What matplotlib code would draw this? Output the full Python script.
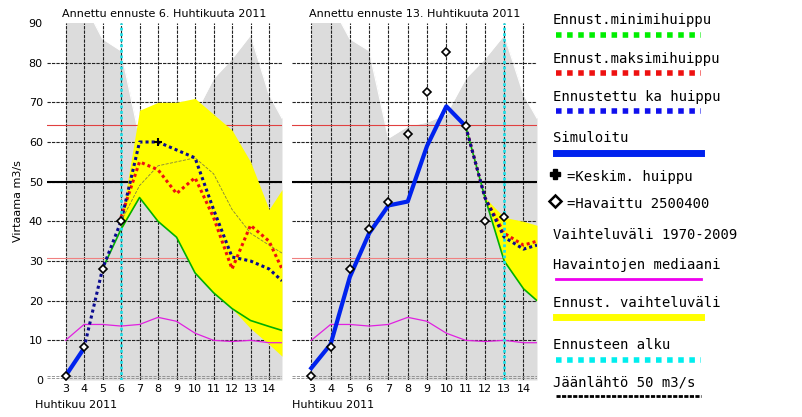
import matplotlib
matplotlib.use("Agg")
import matplotlib.pyplot as plt
import numpy as np

days = [3, 4, 5, 6, 7, 8, 9, 10, 11, 12, 13, 14, 14.7]
gray_upper = [95, 95, 86, 83, 61, 64, 65, 67, 76, 81, 87, 72, 66]
median = [10, 14, 14, 13.6, 14, 15.8, 14.8, 11.8, 10, 9.7, 10, 9.4, 9.4]

# Left panel (forecast 6 April)
L_fc_days = [6, 7, 8, 9, 10, 11, 12, 13, 14, 14.7]
L_yel_up = [40, 68, 70, 70, 71, 67, 63, 55, 43, 48]
L_yel_lo = [38, 46, 40, 36, 27, 22, 18, 13, 9, 6]
L_min_days = [5, 6, 7, 8, 9, 10, 11, 12, 13, 14, 14.7]
L_min = [28, 38, 46, 40, 36, 27, 22, 18, 15, 13.5, 12.5]
L_max = [41, 55, 53, 47, 51, 41, 28, 39, 35, 28]
L_mean_days = [4, 5, 6, 7, 8, 9, 10, 11, 12, 13, 14, 14.7]
L_mean = [8, 28, 40, 60, 60, 58, 56, 43, 31, 30, 28, 25]
L_thin = [40, 49, 54, 55, 56, 52, 43, 37, 34, 32]
L_sim_days = [3, 4]
L_sim = [1, 8]
L_obs_days = [3, 4, 5, 6]
L_obs = [1, 8.3, 28, 40]
L_peak_days = [8]
L_peak = [60]

# Right panel (forecast 13 April)
R_sim_days = [3, 4, 5, 6, 7, 8, 9, 10, 11]
R_sim = [3, 9, 26, 37, 44, 45, 59, 69, 64]
R_fc_days = [11, 12, 13, 14, 14.7]
R_mean = [64, 46, 36, 33, 34]
R_max = [64, 46, 37, 34, 35]
R_min = [64, 46, 30, 23, 20]
R_yel_up = [64, 46, 41, 40, 39]
R_obs_days = [3, 4, 5, 6, 7, 8, 9, 10, 11, 12, 13]
R_obs = [1, 8.3, 28, 38, 45, 62, 72.5, 82.7, 64, 40, 41]

xticks = list(range(3, 15))

fig = plt.figure(figsize=(8.02, 4.17), dpi=100)
W, H = 802, 417
def rect(x0, y0, x1, y1):
    return [x0 / W, 1 - y1 / H, (x1 - x0) / W, (y1 - y0) / H]

axL = fig.add_axes(rect(47, 23, 282, 380))
axR = fig.add_axes(rect(292, 23, 537, 380))

def base(ax, start, title):
    ax.set_xlim(2, 14.7)
    ax.set_ylim(0, 90)
    ax.fill_between(days, 0, gray_upper, color="#dcdcdc", lw=0, zorder=0)
    ax.plot(days, gray_upper, color="white", lw=0.8, zorder=1)
    for v in range(10, 90, 10):
        ax.axhline(v, color="#222222", lw=0.8, ls=(0, (3, 1)), zorder=1)
    for v in xticks:
        ax.axvline(v, color="#222222", lw=0.8, ls=(0, (3, 1)), zorder=1)
    ax.axhline(64.2, color="#e04040", lw=0.8, zorder=2)
    ax.axhline(30.8, color="#f08080", lw=0.8, zorder=2)
    ax.axhline(50, color="black", lw=1.5, zorder=2)
    ax.axhline(0.6, color="#888888", lw=0.6, ls="--", zorder=2)
    ax.axhline(1.1, color="#888888", lw=0.6, ls="--", zorder=2)
    ax.plot(days, median, color="#e020e0", lw=0.9, zorder=3)
    ax.axvline(start, color="#20e0e8", lw=2, ls=(0, (1, 1)), zorder=6)
    ax.set_xticks(xticks)
    ax.set_xticklabels([str(t) for t in xticks], fontsize=8)
    ax.tick_params(length=0, pad=3)
    ax.set_title(title, fontsize=8, pad=4)
    ax.set_xlabel("Huhtikuu 2011", fontsize=8, loc="left", labelpad=1)
    ax.xaxis.set_label_coords(-0.05 if ax is axL else 0.0, -0.055)
    for s in ax.spines.values():
        s.set_visible(False)

base(axL, 6, "Annettu ennuste 6. Huhtikuuta 2011")
base(axR, 13, "Annettu ennuste 13. Huhtikuuta 2011")

axL.set_yticks(range(0, 100, 10))
axL.set_yticklabels([str(v) for v in range(0, 100, 10)], fontsize=8)
axL.set_ylabel("Virtaama m3/s", fontsize=8)
axR.set_yticks([])

dot = (0, (1, 1))
# left
axL.fill_between(L_fc_days, L_yel_lo, L_yel_up, color="#ffff00", lw=0, zorder=2)
axL.plot(L_fc_days, L_thin, color="#808040", lw=0.6, ls="--", zorder=3)
axL.plot(L_min_days, L_min, color="#00b000", lw=1.2, zorder=4)
axL.plot(L_fc_days, L_max, color="#ee1111", lw=2.2, ls=dot, zorder=4)
axL.plot(L_mean_days, L_mean, color="#0a0a90", lw=2.2, ls=dot, zorder=5)
axL.plot(L_sim_days, L_sim, color="#0022ee", lw=3, zorder=5)
axL.plot(L_obs_days, L_obs, ls="none", marker="D", ms=4.5, mfc="white", mec="black", mew=1.2, zorder=7)
axL.plot(L_peak_days, L_peak, ls="none", marker="+", ms=6, color="black", mew=1.5, zorder=7)
# right
axR.fill_between(R_fc_days, R_min, R_yel_up, color="#ffff00", lw=0, zorder=2)
axR.plot(R_fc_days, R_min, color="#00b000", lw=1.2, zorder=4)
axR.plot(R_fc_days, R_max, color="#ee1111", lw=2.2, ls=dot, zorder=4)
axR.plot(R_fc_days, R_mean, color="#0a0a90", lw=2.2, ls=dot, zorder=5)
axR.plot(R_sim_days, R_sim, color="#0022ee", lw=3, zorder=5)
axR.plot(R_obs_days, R_obs, ls="none", marker="D", ms=4.5, mfc="white", mec="black", mew=1.2, zorder=7)

# legend
legend_items = [
    ("Ennust.minimihuippu", 20, 35, "#00ee00", dot, 4),
    ("Ennust.maksimihuippu", 59, 73, "#ee1111", dot, 4),
    ("Ennustettu ka huippu", 97, 111, "#1010ee", dot, 4),
    ("Simuloitu", 138, 153, "#0022ee", "-", 5),
    ("=Keskim. huippu", 177, None, None, None, None),
    ("=Havaittu 2500400", 204, None, None, None, None),
    ("Vaihteluväli 1970-2009", 235, None, None, None, None),
    ("Havaintojen mediaani", 265, 279, "#ee00ee", "-", 2),
    ("Ennust. vaihteluväli", 303, 317, "#ffff00", "-", 5),
    ("Ennusteen alku", 345, 360, "#00eeee", (0, (1, 1)), 4),
    ("Jäänlähtö 50 m3/s", 382, 396, "black", (0, (1.5, 0.5)), 2),
]
for text, ty, ly, col, ls, lw in legend_items:
    tx = 567 if text.startswith("=") else 553
    fig.text(tx / W, 1 - ty / H, text, family="DejaVu Sans Mono", fontsize=10,
             va="center", ha="left")
    if ly is not None:
        fig.add_artist(plt.Line2D([556 / W, 701 / W], [1 - ly / H] * 2, color=col,
                                  ls=ls, lw=lw, transform=fig.transFigure))
fig.add_artist(plt.Line2D([555 / W], [1 - 174 / H], marker="P", ms=7, color="black",
                          transform=fig.transFigure))
fig.add_artist(plt.Line2D([555 / W], [1 - 201 / H], marker="D", ms=6, mfc="white",
                          mec="black", mew=1.8, transform=fig.transFigure))

fig.savefig("out.png", dpi=100)
